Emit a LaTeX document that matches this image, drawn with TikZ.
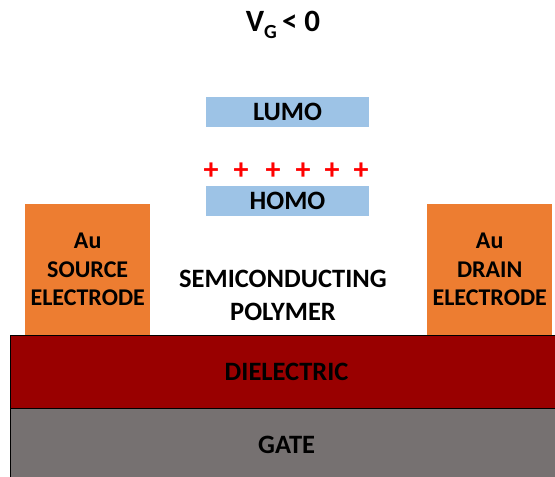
\documentclass[tikz,border=0pt]{standalone}
\usepackage{fontspec}
\setmainfont{Carlito}
\usetikzlibrary{positioning}
\definecolor{orbcolor}{RGB}{157, 195, 230}
\definecolor{aucolor}{RGB}{237, 125, 49}
\definecolor{dielcolor}{RGB}{153, 0, 0}
\definecolor{gatecolor}{RGB}{118, 113, 113}
\definecolor{holecolor}{RGB}{255, 0, 0}
\begin{document}
\begin{tikzpicture}[
  x=1pt, y=-1pt,
  % --- Styles ---
  lbl/.style={font=\bfseries\fontsize{26.5}{29}\selectfont, text=black, align=center},
  orbbox/.style={
    rectangle, fill=orbcolor, minimum width=163pt, minimum height=30pt,
    inner sep=0pt, lbl},
  elbox/.style={
    rectangle, fill=aucolor, minimum width=125pt, minimum height=131pt,
    inner sep=0pt, anchor=north west, lbl, font=\bfseries\fontsize{24}{28.5}\selectfont},
  layer/.style={
    rectangle, fill=#1, draw=black, line width=1.2pt, minimum width=552pt,
    inner sep=0pt, anchor=north west, lbl},
  hole/.style={font=\bfseries\fontsize{30}{30}\selectfont, text=holecolor, inner sep=0pt},
]
\useasboundingbox (0,0) rectangle (555,477);
% === ELECTRODES ===
\node[elbox] (S) at (25,204) {Au\\SOURCE\\ELECTRODE};
\node[elbox] (Dr) at (427,204) {Au\\DRAIN\\ELECTRODE};
% === LAYERS ===
\node[layer=dielcolor, minimum height=73pt] (D) at (10,335) {DIELECTRIC};
\node[layer=gatecolor, minimum height=72pt] (G) at (10,408) {GATE};
% === ORBITALS ===
\node[orbbox] (L) at (287.5,112) {LUMO};
\node[orbbox] (H) at (287.5,200.5) {HOMO};
% holes
\foreach \i/\x in {1/211, 2/241, 3/273, 4/303, 5/332, 6/361}
  \node[hole] (p\i) at (\x,171) {+};
% === TEXT ===
\node[lbl, font=\bfseries\fontsize{26.5}{33}\selectfont] (SC) at (283,295) {SEMICONDUCTING\\POLYMER};
\node[font=\bfseries\fontsize{31}{31}\selectfont] (T) at (283,25)
  {V\raisebox{-7pt}{\fontsize{20}{20}\selectfont G}\,< 0};
\end{tikzpicture}
\end{document}
